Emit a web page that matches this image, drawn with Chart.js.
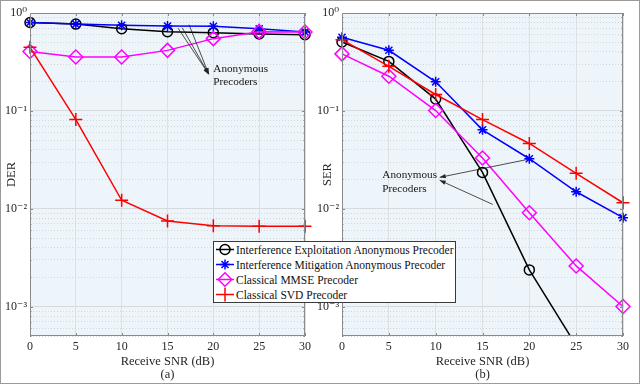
<!DOCTYPE html>
<html>
<head>
<meta charset="utf-8">
<script src="https://cdn.jsdelivr.net/npm/chart.js@4.4.1/dist/chart.umd.min.js"></script>
<style>
  html, body { margin: 0; padding: 0; background: #fff; }
  #wrap { position: relative; width: 640px; height: 384px; overflow: hidden; }
  #wrap canvas { position: absolute; top: 0; }
  #leftChart { left: 0; }
  #rightChart { left: 310px; }
  #frame { position: absolute; left: 0; top: 0; width: 640px; height: 384px; box-sizing: border-box;
           border: 1px solid #9a9a9a; pointer-events: none; }
  #legend { position: absolute; left: 213px; top: 241px; width: 241px; background: #fff;
            border: 1px solid #3a3a3a; font-family: "Liberation Serif", "DejaVu Serif", serif;
            font-size: 11.5px; color: #111; }
  .row { height: 15px; display: flex; align-items: center; white-space: nowrap; }
  .row svg { flex: none; margin: 0 1px 0 1px; }
</style>
</head>
<body>
<div id="wrap">
  <canvas id="leftChart" width="320" height="384"></canvas>
  <canvas id="rightChart" width="330" height="384"></canvas>
  <div id="legend"></div>
  <div id="frame"></div>
</div>
<script>
// data
const snr = [0, 5, 10, 15, 20, 25, 30];
const seriesNames = [
  "Interference Exploitation Anonymous Precoder",
  "Interference Mitigation Anonymous Precoder",
  "Classical MMSE Precoder",
  "Classical SVD Precoder"
];
// (a) DER
const derExploit = [0.80, 0.77, 0.69, 0.645, 0.63, 0.61, 0.60];
const derMitig   = [0.80, 0.77, 0.75, 0.735, 0.73, 0.69, 0.64];
const derMmse    = [0.405, 0.355, 0.355, 0.415, 0.547, 0.645, 0.64];
const derSvd     = [0.446, 0.0815, 0.0122, 0.0075, 0.0067, 0.0066, 0.0066];
// (b) SER
const serExploit = [0.506, 0.32, 0.132, 0.0235, 0.00237, 0.0004, null];
const serMitig   = [0.564, 0.416, 0.198, 0.064, 0.0324, 0.0149, 0.0081];
const serMmse    = [0.382, 0.226, 0.1007, 0.033, 0.0091, 0.0026, 0.001];
const serSvd     = [0.534, 0.285, 0.147, 0.0815, 0.0464, 0.023, 0.0115];

const xTicks = { min: 0, max: 30, step: 5 };
const yRange = { min: 5e-4, max: 1 };
const yDecades = [1e-4, 1e-3, 1e-2, 1e-1];
const yMinorSteps = [1, 2, 3, 4, 5, 6, 7, 8, 9];
const noteText = ["Anonymous", "Precoders"];

const colors = ["#000000", "#0000ff", "#ff00ff", "#ff0000"];
const markers = ["circle", "star", "rectRot", "cross"];
const markerSize = [5, 5, 7, 6.5];
const serif = '"Liberation Serif", "DejaVu Serif", serif';
const textColor = "#262626";

// grid / tick values: each decade and its 2..9 multiples, kept inside the range
const yTickVals = [];
yDecades.forEach(d => yMinorSteps.forEach(m => {
  const v = +(d * m).toPrecision(3);
  if (v >= yRange.min && v <= yRange.max) yTickVals.push(v);
}));
yTickVals.push(yRange.max);

const supMap = { "-": "\u207B", "0": "\u2070", "1": "\u00B9", "2": "\u00B2", "3": "\u00B3", "4": "\u2074" };
function isDecade(v) {
  if (!v) return false;
  const e = Math.log10(v);
  return Math.abs(e - Math.round(e)) < 1e-6;
}
function decadeLabel(v) {
  if (!isDecade(v)) return "";
  const e = String(Math.round(Math.log10(v)));
  return "10" + e.split("").map(c => supMap[c]).join("");
}

function makeSets(lists, clipBottom) {
  return lists.map((vals, i) => ({
    label: seriesNames[i],
    data: vals.map((v, k) => ({ x: snr[k], y: v })),
    borderColor: colors[i],
    backgroundColor: colors[i],
    borderWidth: 1.5,
    pointStyle: markers[i],
    pointRadius: markerSize[i],
    pointBorderWidth: 1.5,
    pointBorderColor: colors[i],
    pointBackgroundColor: "rgba(0,0,0,0)",
    tension: 0,
    spanGaps: false,
    order: 4 - i,
    clip: { left: 10, right: 10, top: 10, bottom: (i === 0 && clipBottom) ? 0 : 10 }
  }));
}

const plotBox = {
  id: "plotBox",
  beforeDraw(chart) {
    const a = chart.chartArea, c = chart.ctx;
    c.save();
    c.fillStyle = "#eef5fa";
    c.fillRect(a.left, a.top, a.right - a.left, a.bottom - a.top);
    c.restore();
  },
  afterDraw(chart, args, opts) {
    const a = chart.chartArea, c = chart.ctx;
    const xs = chart.scales.x, ys = chart.scales.y;
    c.save();
    c.strokeStyle = "#8a8a8a";
    c.lineWidth = 1;
    c.strokeRect(a.left + 0.5, a.top + 0.5, a.right - a.left - 1, a.bottom - a.top - 1);
    // small inward ticks like the original axes box
    c.beginPath();
    xs.ticks.forEach(t => {
      const px = Math.round(xs.getPixelForValue(t.value)) + 0.5;
      c.moveTo(px, a.bottom); c.lineTo(px, a.bottom - 3);
      c.moveTo(px, a.top); c.lineTo(px, a.top + 3);
    });
    ys.ticks.forEach(t => {
      const py = Math.round(ys.getPixelForValue(t.value)) + 0.5;
      const len = isDecade(t.value) ? 3 : 1.5;
      c.moveTo(a.left, py); c.lineTo(a.left + len, py);
      c.moveTo(a.right, py); c.lineTo(a.right - len, py);
    });
    c.stroke();
    // annotation text + arrows
    if (opts && opts.at) {
      c.fillStyle = "#151515";
      c.font = "11.2px " + serif;
      c.textBaseline = "middle";
      const tx = xs.getPixelForValue(opts.at[0]), ty = ys.getPixelForValue(opts.at[1]);
      noteText.forEach((t, i) => c.fillText(t, tx, ty + i * 13.3));
      c.strokeStyle = "#222";
      c.fillStyle = "#222";
      c.lineWidth = 0.8;
      opts.arrows.forEach(ar => {
        const x0 = xs.getPixelForValue(ar[0][0]), y0 = ys.getPixelForValue(ar[0][1]);
        const x1 = xs.getPixelForValue(ar[1][0]), y1 = ys.getPixelForValue(ar[1][1]);
        c.beginPath(); c.moveTo(x0, y0); c.lineTo(x1, y1); c.stroke();
        const ang = Math.atan2(y1 - y0, x1 - x0), L = 6, W = 2.2;
        c.beginPath();
        c.moveTo(x1, y1);
        c.lineTo(x1 - L * Math.cos(ang) + W * Math.sin(ang), y1 - L * Math.sin(ang) - W * Math.cos(ang));
        c.lineTo(x1 - L * Math.cos(ang) - W * Math.sin(ang), y1 - L * Math.sin(ang) + W * Math.cos(ang));
        c.closePath(); c.fill();
      });
    }
    c.restore();
  }
};

function makeChart(id, lists, opt) {
  return new Chart(document.getElementById(id), {
    type: "line",
    data: { datasets: makeSets(lists, opt.clipBottom) },
    plugins: [plotBox],
    options: {
      responsive: false,
      animation: false,
      devicePixelRatio: 1,
      layout: { padding: { left: 0, right: opt.padRight, top: 13, bottom: 0 } },
      plugins: { legend: { display: false }, tooltip: { enabled: false }, plotBox: opt.note },
      scales: {
        x: {
          type: "linear", min: xTicks.min, max: xTicks.max,
          afterFit: s => { s.height = 48; },
          ticks: { stepSize: xTicks.step, padding: 4, color: textColor, maxRotation: 0,
                   font: { family: serif, size: 12 } },
          grid: { drawTicks: false, color: "#dbe1e5" },
          border: { display: false },
          title: { display: true, text: ["Receive SNR (dB)", opt.tag], color: textColor,
                   font: { family: serif, size: 12.5, lineHeight: 1.1 }, padding: { top: 0, bottom: 2 } }
        },
        y: {
          type: "logarithmic", min: yRange.min, max: yRange.max,
          afterFit: s => { s.width = opt.yWidth; },
          afterBuildTicks: s => { s.ticks = yTickVals.map(v => ({ value: v, major: isDecade(v) })); },
          ticks: { autoSkip: false, padding: 3, color: textColor, callback: decadeLabel,
                   font: { family: serif, size: 12 } },
          grid: { drawTicks: false, color: ctx => isDecade(ctx.tick && ctx.tick.value) ? "#d4dade" : "#d0d7db" },
          border: { display: false, dash: ctx => isDecade(ctx.tick && ctx.tick.value) ? [] : [1, 2] },
          title: { display: true, text: opt.yTitle, color: textColor,
                   font: { family: serif, size: 12.5, lineHeight: 1.1 }, padding: { top: opt.yTitlePad, bottom: 0 } }
        }
      }
    }
  });
}

makeChart("leftChart", [derExploit, derMitig, derMmse, derSvd], {
  tag: "(a)", yTitle: "DER", yWidth: 30, yTitlePad: 5, padRight: 15, clipBottom: false,
  note: { at: [20.0, 0.27], arrows: [
    [[16.15, 0.70], [19.5, 0.237]],
    [[16.6, 0.708], [19.5, 0.237]],
    [[17.35, 0.76], [19.5, 0.237]]
  ] }
});

makeChart("rightChart", [serExploit, serMitig, serMmse, serSvd], {
  tag: "(b)", yTitle: "SER", yWidth: 32, yTitlePad: 11, padRight: 17, clipBottom: true,
  note: { at: [4.31, 0.0219], arrows: [
    [[19.83, 0.0319], [10.43, 0.0209]],
    [[16.09, 0.01106], [10.43, 0.0195]]
  ] }
});

// legend box shared by both panels
function markerSvg(i) {
  const c = colors[i];
  let m = "";
  if (i === 0) m = `<circle cx="10" cy="7.5" r="5" fill="none" stroke="${c}" stroke-width="1.5"/>`;
  if (i === 1) m = `<path d="M5 7.5H15M10 2.5V12.5M6.5 4L13.5 11M13.5 4L6.5 11" stroke="${c}" stroke-width="1.5"/>`;
  if (i === 2) m = `<polygon points="10,0.8 16.7,7.5 10,14.2 3.3,7.5" fill="none" stroke="${c}" stroke-width="1.5"/>`;
  if (i === 3) m = `<path d="M10 0.5V14.5" stroke="${c}" stroke-width="1.5"/>`;
  return `<svg width="20" height="15"><path d="M1 7.5H19" stroke="${c}" stroke-width="1.5"/>${m}</svg>`;
}
document.getElementById("legend").innerHTML = seriesNames
  .map((n, i) => `<div class="row">${markerSvg(i)}<span>${n}</span></div>`).join("");
</script>
</body>
</html>
